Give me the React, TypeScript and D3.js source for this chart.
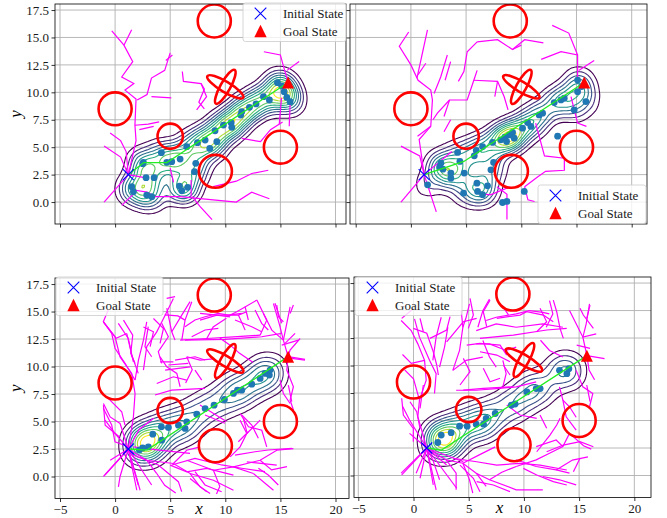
import React, { useRef, useEffect } from "react";
import * as d3 from "d3";

type Pt = [number, number];

// shared scene
const startState: Pt = [1.2, 2.5];
const goalState: Pt = [15.7, 10.9];
const circleCenters: Pt[] = [[0, 8.5], [5, 6], [9.1, 2.8], [15, 5], [9, 16.5]];
const circleRadii = [1.5, 1.15, 1.5, 1.5, 1.5];
const crossCenter: Pt = [10, 10.5];
const crossMajor = [1.9, 1.75];
const crossMinor = [0.47, 0.45];
const crossAngle = [-31, 61];

const xTicks = [-5, 0, 5, 10, 15, 20];
const yTicks = [0, 2.5, 5, 7.5, 10, 12.5, 15, 17.5];
const yDomain: [number, number] = [-2.0, 18.05];
const legendLabels = ["Initial State", "Goal State"];

// top-left
const tlTree: Pt[][] = [
  [[-0.3, 15.6], [0.8, 14.3], [1.6, 12.8], [0.6, 11.4], [1.7, 10.8], [0.9, 10.2], [1.9, 9.4], [1.8, 7.0], [1.9, 5.6], [1.2, 2.5]],
  [[1.5, 15.7], [0.8, 14.3]],
  [[1.8, 7.0], [3.0, 7.1], [4.0, 7.3]],
  [[2.2, 6.6], [3.5, 6.9]],
  [[-0.45, 6.3], [0.5, 5.6], [1.0, 4.6], [1.2, 2.5]],
  [[-1.0, 5.1], [0.5, 4.1], [1.2, 2.5]],
  [[-1.0, 0.0], [1.2, 2.5]],
  [[0.6, -0.3], [1.9, 0.95]],
  [[5.0, 13.6], [4.5, 12.0], [3.3, 11.3], [2.9, 9.8], [2.0, 9.3]],
  [[5.2, 13.4], [4.6, 12.9]],
  [[3.3, 9.6], [5.1, 9.5]],
  [[6.1, 11.9], [6.2, 11.0], [7.8, 10.8], [8.1, 10.3], [7.6, 9.1], [8.1, 8.5]],
  [[7.8, 10.8], [8.3, 9.6], [7.4, 8.4]],
  [[13.5, 13.7], [15.0, 13.4], [15.3, 12.3], [15.7, 10.9]],
  [[16.7, 12.8], [15.6, 12.0]],
  [[15.1, 9.5], [14.9, 7.1]],
  [[15.9, 9.4], [15.8, 6.9]],
  [[11.5, 5.8], [13.2, 5.5], [14.1, 6.6], [15.2, 7.3]],
  [[1.7, 1.1], [2.9, 0.9], [3.6, 0.5], [5.9, 0.5], [8.9, 0.2], [11.0, 0.0], [12.4, 0.9], [14.0, 0.3]],
  [[7.0, 0.5], [7.7, -0.4], [8.8, -1.6]],
  [[8.9, 1.4], [11.0, 1.9], [12.4, 2.6], [13.9, 2.9]],
  [[5.0, 3.1], [5.3, 1.8]],
  [[1.2, 2.5], [2.8, 2.2]],
  [[6.9, 2.0], [6.9, 0.5]],
];
const tlPath: Pt[] = [[1.2, 2.5], [2.6, 3.6], [4.7, 3.6], [15.7, 10.9]];
const tlDots: Pt[] = [
  [2.57, 3.62], [2.5, 3.5], [1.51, 1.4], [1.66, 0.94], [2.87, 0.64], [3.33, 0.49], [2.81, 2.22], [3.54, 2.22],
  [4.2, 4.5], [4.69, 3.62], [5.14, 3.68], [5.9, 3.92], [5.84, 1.46], [6.05, 1.03], [6.59, 1.34], [7.2, 2.77],
  [7.32, 3.53], [7.47, 5.41], [8.17, 5.65], [8.59, 4.89], [9.07, 6.5], [9.23, 5.5], [9.83, 7.02], [10.53, 7.23],
  [10.59, 6.81], [11.4, 7.93], [11.49, 8.24], [12.19, 8.63], [12.79, 8.94], [13.46, 9.6], [14.0, 9.3],
  [14.73, 10.88], [15.12, 10.58], [15.34, 10.06], [15.58, 9.54], [15.88, 9.15], [6.5, 5.05],
];

// top-right
const trTree: Pt[][] = [
  [[-0.2, 15.5], [-1.05, 14.2], [0.0, 12.5], [0.65, 11.1], [1.8, 10.2], [1.95, 9.3], [1.8, 6.9], [0.75, 5.7], [1.2, 2.5]],
  [[1.5, 15.7], [0.55, 11.3]],
  [[1.35, 12.65], [0.65, 11.6]],
  [[3.3, 13.4], [2.7, 11.4], [2.1, 9.9]],
  [[3.6, 12.8], [3.1, 11.1]],
  [[6.0, 14.6], [5.1, 13.7], [4.8, 11.9], [4.3, 11.0]],
  [[6.0, 14.6], [7.85, 14.8], [9.2, 13.9], [10.3, 14.8], [12.0, 14.5]],
  [[9.2, 13.9], [10.0, 14.3]],
  [[11.8, 13.0], [13.6, 13.7], [15.1, 13.4], [15.1, 11.2]],
  [[12.8, 16.1], [14.3, 15.4], [15.1, 13.4]],
  [[16.6, 12.9], [15.2, 12.0]],
  [[6.0, 12.0], [5.7, 11.1], [5.1, 9.3], [3.5, 9.3], [3.0, 7.8]],
  [[5.7, 11.1], [7.85, 11.0], [8.45, 9.6], [8.8, 8.4]],
  [[7.85, 11.0], [7.6, 9.6]],
  [[3.5, 9.3], [2.4, 8.1], [2.0, 7.5]],
  [[14.5, 9.6], [15.1, 7.2], [15.9, 6.9]],
  [[11.3, 7.2], [12.1, 4.2], [13.9, 4.0], [13.9, 2.9], [12.2, 2.8], [11.5, 2.3], [10.3, 1.4]],
  [[10.3, 1.4], [10.6, 0.2], [11.2, 0.05]],
  [[7.8, 1.4], [8.7, 0.7], [8.7, -1.6]],
  [[6.0, 0.8], [7.2, 0.65], [9.0, 1.4]],
  [[1.2, 2.5], [-0.9, 0.0]],
  [[1.2, 2.5], [2.3, -0.9]],
  [[1.2, 2.5], [3.7, 4.6]],
  [[-0.9, 5.1], [0.8, 4.2], [1.2, 2.5]],
  [[0.6, 6.0], [1.8, 6.9]],
  [[3.0, 6.4], [3.6, 7.5]],
];
const trPath: Pt[] = [[1.2, 2.5], [4.8, 3.7], [15.7, 10.9]];
const trDots: Pt[] = [
  [4.23, 4.52], [4.44, 3.7], [3.62, 2.64], [3.62, 2.18], [4.83, 2.64], [4.77, 0.81], [5.98, 1.72], [6.04, 0.97],
  [6.49, 0.67], [6.94, 1.48], [7.25, 2.94], [7.49, 3.61], [5.74, 4.21], [5.92, 4.7], [6.49, 5.06], [7.4, 5.43],
  [8.15, 5.67], [8.51, 5.91], [8.91, 6.12], [9.21, 6.34], [9.36, 5.82], [8.67, 5.52], [10.57, 7.25], [10.87, 6.89],
  [11.62, 7.94], [11.93, 8.1], [12.98, 9.07], [13.59, 9.31], [13.89, 9.46], [14.79, 8.4], [15.1, 11.12],
  [15.46, 10.52], [15.85, 9.16], [15.1, 10.06], [10.11, 6.73],
  [1.51, 1.57], [2.72, 3.55], [2.6, 3.2], [2.9, 3.0],
];
// samples that sit outside the density contours
const trStrayDots: Pt[] = [[8.3, -0.04], [8.7, 0.06], [10.27, 0.97], [13.29, 6.0]];

// bottom-left
const blTree: Pt[][] = [
  [[-1.06, 14.06], [0.0, 12.7], [0.45, 10.87], [1.51, 9.37], [1.81, 7.55], [1.66, 5.42], [1.2, 2.5]],
  [[0.76, 14.22], [1.6, 12.85], [1.42, 11.19], [1.81, 10.28]],
  [[2.87, 14.07], [2.57, 12.4], [2.12, 10.58], [1.81, 8.76]],
  [[3.48, 14.37], [4.39, 13.46], [4.08, 12.1]],
  [[5.29, 16.19], [4.54, 14.67], [3.78, 13.15], [2.87, 11.8], [2.57, 9.68]],
  [[-1.06, 6.64], [-0.45, 5.42], [0.45, 4.82], [1.2, 2.5]],
  [[-0.91, 5.12], [0.0, 3.91], [1.2, 2.5]],
  [[-1.06, 0.0], [1.2, 2.5]],
  [[-0.45, 1.48], [1.2, 2.5]],
  [[1.2, 2.5], [1.66, 0.27], [1.97, -1.25]],
  [[1.2, 2.5], [2.87, 1.48], [3.78, 0.27]],
  [[1.2, 2.5], [0.45, 0.0], [0.3, -0.94]],
  [[1.2, 2.5], [2.27, -1.25]],
  [[1.2, 2.5], [2.2, 4.3], [3.5, 5.3]],
  [[2.87, 1.48], [5.29, 1.18], [6.81, 0.27], [8.92, -0.34], [10.74, -1.25]],
  [[5.29, 1.18], [6.5, 2.39], [7.71, 2.7]],
  [[6.81, 0.27], [7.71, -0.94], [8.62, -1.55]],
  [[6.5, 1.48], [8.92, 0.57], [10.74, 0.88], [12.55, 0.27]],
  [[10.74, 0.88], [13.16, 1.48], [14.67, 2.39], [16.18, 2.54]],
  [[12.55, 0.27], [14.37, -1.25]],
  [[10.44, 1.79], [11.34, 2.7], [11.95, 3.91], [11.34, 5.12]],
  [[11.95, 3.91], [13.16, 5.12]],
  [[13.16, 1.48], [14.2, 0.6], [15.6, 0.9]],
  [[8.92, 0.57], [9.5, -0.9], [9.2, -1.6]],
  [[3.78, 0.27], [4.5, -0.8], [5.5, -1.5]],
  [[14.37, 15.73], [14.97, 13.61], [15.27, 12.4], [15.7, 10.9]],
  [[15.88, 15.43], [15.58, 13.92], [15.27, 12.4]],
  [[13.46, 14.82], [14.22, 13.31], [15.27, 12.4]],
  [[16.79, 12.55], [15.88, 11.49], [15.7, 10.9]],
  [[15.7, 10.9], [17.24, 10.65]],
  [[15.7, 10.9], [15.58, 9.68], [16.18, 8.16], [15.88, 6.94], [16.2, 6.0]],
  [[14.97, 8.76], [15.27, 7.55], [15.88, 6.64]],
  [[5.9, 12.4], [8.32, 12.55], [10.74, 12.7], [13.16, 12.85]],
  [[7.71, 14.22], [9.23, 14.67], [10.44, 14.52]],
  [[6.96, 15.89], [6.35, 14.22], [6.05, 12.4]],
  [[10.13, 14.52], [11.04, 14.98], [12.86, 16.04]],
  [[8.32, 12.55], [8.9, 13.6], [10.1, 14.4]],
  [[12.86, 16.04], [13.76, 14.22], [13.16, 12.85]],
  [[6.5, 10.89], [7.71, 10.58], [8.9, 10.7]],
  [[6.5, 10.89], [7.0, 9.7], [6.4, 8.5]],
  [[4.08, 10.89], [4.69, 9.98], [5.6, 9.37], [5.9, 8.16]],
  [[3.78, 8.46], [5.29, 9.07], [6.5, 8.76]],
  [[9.5, 12.6], [10.5, 11.9], [11.3, 11.2], [12.5, 10.4]],
  [[4.5, 14.7], [5.7, 14.6], [6.35, 14.22]],
  [[11.34, 5.73], [12.1, 4.52], [13.31, 4.21], [13.76, 2.7]],
  [[7.7, 6.5], [10.1, 5.0]],
  [[1.66, 2.7], [4.0, 2.4], [6.8, 2.1]],
  [[-1.06, 14.07], [0.09, 12.56], [1.06, 13.0]],
  [[1.06, 13.0], [1.66, 10.43]],
  [[2.57, 13.6], [3.48, 13.16], [3.18, 11.8]],
  [[4.69, 15.3], [5.14, 13.16], [5.44, 12.4]],
  [[6.8, 15.9], [6.05, 14.68], [5.14, 13.16]],
  [[7.71, 14.83], [9.23, 14.68], [11.19, 14.68], [11.95, 14.98]],
  [[11.19, 14.68], [11.8, 13.31]],
  [[14.67, 15.59], [14.82, 14.52], [15.27, 14.07]],
  [[16.18, 15.59], [15.88, 14.83]],
  [[15.12, 11.95], [16.63, 12.4]],
  [[4.08, 10.43], [5.29, 10.43]],
  [[4.54, 9.67], [6.8, 9.97]],
  [[-1.06, 6.49], [-0.9, 4.67], [0.4, 3.6]],
  [[4.99, 1.03], [6.5, 0.42], [8.32, 0.73], [10.74, 0.12]],
  [[6.8, -0.18], [8.32, -1.4]],
  [[11.95, 1.33], [14.67, 1.03]],
  [[11.65, 5.28], [11.95, 4.06]],
  [[-0.62, 15.14], [-1.07, 14.07], [-0.31, 13.02], [-0.01, 11.65], [0.9, 10.29], [1.81, 8.77]],
  [[0.29, 13.93], [1.2, 12.56], [1.51, 11.05], [2.1, 9.38]],
  [[3.01, 13.62], [2.71, 11.8], [3.32, 10.89]],
  [[4.23, 13.93], [4.83, 12.71], [3.92, 11.35], [4.23, 10.29]],
  [[4.68, 16.2], [5.44, 16.35]],
  [[5.44, 10.59], [7.25, 10.89], [8.16, 10.59]],
  [[4.83, 10.14], [6.64, 10.29]],
  [[6.34, 13.62], [7.25, 14.23], [8.16, 14.53], [9.37, 14.84], [10.27, 14.68], [11.49, 14.84]],
  [[6.95, 12.71], [8.16, 13.32], [9.37, 13.47]],
  [[6.34, 12.41], [9.97, 12.47], [13.3, 12.71], [15.12, 13.02]],
  [[10.88, 14.23], [12.4, 13.62], [13.3, 13.17]],
  [[11.79, 15.44], [12.09, 14.23]],
  [[12.7, 15.14], [13.3, 13.93], [13.9, 13.32]],
  [[14.51, 15.75], [14.81, 14.84], [15.12, 13.93]],
  [[16.33, 13.02], [15.42, 12.11]],
  [[16.03, 10.75], [17.23, 10.59]],
  [[7.25, 9.68], [7.86, 8.77]],
  [[-1.07, 6.2], [-0.31, 4.68], [-0.01, 3.16], [1.2, 2.71]],
  [[-0.62, 7.11], [0.6, 5.89], [0.9, 4.68]],
  [[-0.92, 0.14], [1.2, 2.5]],
  [[1.2, 2.5], [2.1, -0.77]],
  [[1.2, 2.5], [2.71, 0.14], [3.32, -0.77]],
  [[1.5, 2.0], [3.92, 1.05], [5.74, -0.47], [6.04, -1.38]],
  [[5.13, 1.05], [7.25, 1.65], [9.67, 1.05], [11.49, 0.75], [13.6, 0.44]],
  [[7.25, 0.44], [8.16, -0.77], [9.67, -1.38]],
  [[10.88, 1.95], [12.7, 2.25], [13.9, 2.41], [16.03, 2.56]],
  [[11.18, 3.16], [12.09, 4.07]],
  [[11.49, 5.59], [12.4, 4.68], [13.0, 3.47]],
  [[13.0, 0.75], [13.9, 0.14], [14.81, -0.77]],
  [[15.72, 8.32], [16.03, 6.8]],
  [[8.16, 5.59], [9.97, 4.84]],
  [[3.62, 7.41], [5.13, 7.86], [8.16, 8.02]],
];
const blPath: Pt[] = [[1.2, 2.5], [2.9, 2.4], [15.7, 10.9]];
const blDots: Pt[] = [
  [3.42, 3.85], [4.23, 3.3], [3.02, 2.7], [4.2, 4.52], [4.84, 4.46], [5.75, 4.67], [6.35, 4.37], [6.5, 4.97],
  [7.41, 5.67], [8.17, 6.18], [8.98, 6.49], [9.92, 7.0], [10.74, 7.55], [11.1, 7.85], [11.49, 7.85],
  [12.4, 8.4], [13.16, 8.92], [13.61, 9.37], [14.0, 9.22], [14.06, 9.68], [2.5, 2.6], [2.2, 2.4],
];
// hidden samples that only shape the density peak near the start
const blDensityExtra: Pt[] = [[2.6, 3.1], [2.7, 3.2], [2.8, 3.05], [2.55, 3.25]];

// bottom-right
const brTree: Pt[][] = [
  [[-1.12, 14.09], [-0.21, 13.18], [0.39, 11.97], [1.0, 10.47], [1.15, 8.66], [0.54, 6.85], [0.39, 5.34], [1.2, 2.5]],
  [[0.09, 14.24], [0.54, 12.58], [1.45, 10.47], [2.05, 9.26], [1.9, 7.45]],
  [[2.51, 14.39], [2.05, 12.58], [1.75, 10.47]],
  [[3.11, 13.48], [2.81, 11.67], [2.36, 9.86]],
  [[4.32, 14.99], [4.47, 13.48], [4.17, 11.37], [3.56, 9.56]],
  [[5.07, 15.6], [4.77, 14.39], [4.47, 13.48]],
  [[-0.97, 6.25], [-0.36, 5.04], [1.2, 2.5]],
  [[-1.12, 0.21], [1.2, 2.5]],
  [[1.2, 2.5], [1.75, 1.42], [2.36, -0.39]],
  [[1.2, 2.5], [2.96, 1.42], [3.86, 0.21], [3.86, -1.3]],
  [[1.2, 2.5], [2.05, -1.3]],
  [[1.2, 2.5], [0.24, 0.21]],
  [[1.2, 2.5], [-0.36, 3.83]],
  [[-0.8, 9.6], [0.0, 8.8], [0.54, 6.85]],
  [[-1.0, 11.0], [-0.2, 10.2], [1.0, 10.47]],
  [[6.58, 14.09], [7.49, 14.39], [9.3, 14.69], [10.5, 15.0], [11.71, 14.84], [12.3, 14.7]],
  [[5.68, 13.18], [7.49, 13.79], [9.3, 13.48], [11.71, 13.79], [13.53, 13.48]],
  [[6.88, 16.05], [6.28, 14.99], [5.83, 13.48]],
  [[12.32, 15.9], [12.62, 14.69], [12.02, 13.48]],
  [[14.13, 15.0], [14.89, 13.48], [15.34, 12.58], [16.55, 12.88]],
  [[15.94, 15.6], [15.64, 13.79], [15.34, 12.58], [15.7, 10.9]],
  [[5.68, 11.97], [6.88, 11.97], [8.39, 11.37], [9.3, 11.67]],
  [[6.28, 12.28], [6.88, 10.77], [7.49, 9.86]],
  [[3.86, 7.75], [5.68, 7.75], [7.49, 7.9], [9.3, 8.06], [11.11, 8.51]],
  [[8.09, 10.47], [8.39, 9.26], [8.09, 8.06]],
  [[11.5, 12.3], [12.32, 11.37], [13.53, 10.77]],
  [[3.56, 9.56], [4.77, 10.47], [6.28, 10.77]],
  [[8.0, 15.5], [8.6, 14.6]],
  [[14.73, 9.56], [15.34, 8.06], [16.24, 7.45], [15.94, 6.25]],
  [[13.22, 8.06], [13.53, 6.85], [13.83, 5.34], [14.73, 4.13]],
  [[13.53, 6.85], [14.13, 6.25], [14.73, 5.3]],
  [[15.7, 10.9], [17.3, 10.62]],
  [[15.7, 10.9], [15.9, 9.6], [16.4, 8.7]],
  [[14.13, 3.83], [13.53, 2.63], [12.32, 2.02], [11.11, 1.42], [9.3, 0.82]],
  [[11.11, 2.63], [12.92, 3.23], [13.53, 2.63]],
  [[9.3, 1.42], [11.11, 0.82], [12.92, 0.51], [14.13, 0.21]],
  [[11.71, -0.09], [13.22, -0.39], [14.73, -0.85]],
  [[14.13, 3.83], [15.4, 2.7], [16.1, 2.4]],
  [[12.92, 0.51], [14.4, 1.4], [15.8, 1.7]],
  [[2.96, 1.42], [4.47, 1.12], [5.68, 0.21], [6.88, -0.39], [9.3, -1.3], [11.71, -1.3]],
  [[5.68, 0.21], [6.58, -0.99]],
  [[4.47, 1.12], [5.07, -0.39], [5.37, -1.6]],
  [[6.88, -0.39], [8.0, 0.3], [9.3, 0.82]],
  [[4.47, 1.12], [6.0, 1.9], [7.4, 2.6]],
  [[-1.07, 14.29], [-0.16, 15.05]],
  [[-0.02, 13.38], [1.2, 12.93], [1.79, 11.25], [2.1, 10.05], [2.25, 9.14]],
  [[0.59, 14.29], [0.89, 13.07]],
  [[1.49, 12.47], [3.0, 13.23], [3.31, 14.44]],
  [[3.0, 12.16], [4.51, 13.98], [5.72, 14.29]],
  [[5.12, 16.11], [5.42, 14.59], [4.96, 13.38]],
  [[6.93, 15.95], [6.32, 14.89], [6.63, 13.53]],
  [[7.54, 14.29], [9.65, 14.59], [10.25, 14.89], [11.76, 14.59], [12.66, 13.98]],
  [[6.02, 12.47], [9.04, 12.77], [12.06, 13.23], [13.88, 13.38]],
  [[12.66, 15.95], [12.97, 14.89], [13.27, 13.38], [13.57, 12.47]],
  [[15.08, 15.2], [15.38, 14.59], [16.29, 13.38]],
  [[15.99, 15.5], [15.69, 14.29]],
  [[14.78, 11.86], [15.99, 11.56]],
  [[4.82, 11.86], [6.02, 12.02], [7.84, 11.86], [8.44, 10.95]],
  [[6.02, 11.25], [7.54, 10.95], [8.74, 10.35]],
  [[4.51, 10.65], [5.12, 9.44], [4.21, 8.23]],
  [[6.32, 9.75], [6.93, 8.53], [7.84, 8.84]],
  [[8.13, 10.05], [8.74, 9.14]],
  [[11.46, 15.2], [12.06, 13.98], [11.16, 13.07]],
  [[-1.07, 7.02], [-0.92, 5.5], [-0.02, 4.29], [-0.02, 3.07]],
  [[-0.32, 6.71], [0.29, 5.8], [0.59, 4.29]],
  [[0.89, 8.23], [0.59, 6.11]],
  [[-1.07, 0.05], [1.2, 2.5]],
  [[1.2, 2.5], [0.59, -0.25]],
  [[1.2, 2.5], [1.79, -0.86]],
  [[1.2, 2.5], [3.0, 0.95]],
  [[1.2, 2.5], [3.91, -1.16]],
  [[1.2, 2.5], [4.51, 1.25]],
  [[3.6, 1.56], [5.72, 1.25], [7.54, 0.95], [9.65, 1.11], [11.46, 0.95], [13.88, 0.5]],
  [[4.21, 0.95], [5.42, -0.25], [6.02, -1.47]],
  [[5.72, -0.56], [7.23, -0.86], [8.74, -1.47]],
  [[9.95, 0.65], [11.16, 0.05], [12.66, -0.56], [13.88, -0.86]],
  [[12.06, 2.16], [13.57, 2.77], [15.08, 3.07], [16.29, 2.62]],
  [[11.16, 2.16], [12.36, 3.68], [12.97, 4.59], [13.27, 5.2]],
  [[11.46, 5.5], [12.06, 4.29]],
  [[15.08, 1.56], [14.48, 0.35]],
  [[15.69, 8.23], [15.99, 6.71]],
  [[8.44, 6.41], [9.65, 5.5], [11.16, 5.2]],
  [[4.51, 7.77], [6.32, 7.93], [9.04, 8.07]],
];
const brPath: Pt[] = [[1.2, 2.5], [2.5, 2.3], [15.7, 10.9]];
const brDots: Pt[] = [
  [2.51, 3.68], [3.41, 3.89], [4.17, 4.49], [4.86, 4.49], [5.68, 4.67], [6.34, 4.67], [6.58, 5.19], [7.4, 5.64],
  [8.85, 6.39], [9.2, 6.5], [10.27, 7.6], [11.11, 7.9], [11.47, 7.9], [13.22, 9.56], [13.89, 9.26], [14.07, 9.71],
  [2.2, 3.0],
];
const brDensityExtra: Pt[] = [[2.7, 3.0], [2.8, 3.1], [2.9, 2.95], [2.65, 3.15]];

const contourFractions = [0.1, 0.2, 0.3, 0.4, 0.5, 0.6, 0.7, 0.8, 0.9];

interface PanelLayout {
  box: { left: number; top: number; right: number; bottom: number };
  xDomain: [number, number];
  xLabels: boolean;
  yLabels: boolean;
  legend: { x: number; y: number; w: number };
  bandwidth: number;
}

interface PanelData {
  layout: PanelLayout;
  tree: Pt[][];
  path: Pt[];
  dots: Pt[];
  stray: Pt[];
  densityExtra: Pt[];
}

const panels: PanelData[] = [
  {
    layout: { box: { left: 55, top: 4, right: 346, bottom: 224 }, xDomain: [-5.454, 20.953], xLabels: false, yLabels: true, legend: { x: 243, y: 3, w: 103 }, bandwidth: 9 },
    tree: tlTree, path: tlPath, dots: tlDots, stray: [], densityExtra: [],
  },
  {
    layout: { box: { left: 350, top: 4, right: 647, bottom: 224 }, xDomain: [-5.516, 21.386], xLabels: false, yLabels: false, legend: { x: 538, y: 185, w: 108 }, bandwidth: 9 },
    tree: trTree, path: trPath, dots: trDots, stray: trStrayDots, densityExtra: [],
  },
  {
    layout: { box: { left: 55, top: 278, right: 349, bottom: 498.5 }, xDomain: [-5.454, 21.225], xLabels: true, yLabels: true, legend: { x: 56, y: 277, w: 107 }, bandwidth: 11 },
    tree: blTree, path: blPath, dots: blDots, stray: [], densityExtra: blDensityExtra,
  },
  {
    layout: { box: { left: 354, top: 277, right: 651, bottom: 497.5 }, xDomain: [-5.39, 21.51], xLabels: true, yLabels: false, legend: { x: 355, y: 277, w: 107 }, bandwidth: 11 },
    tree: brTree, path: brPath, dots: brDots, stray: [], densityExtra: brDensityExtra,
  },
];

const FONT = "'Liberation Serif', 'Times New Roman', serif";

const fmtTick = (v: number, dec: number) => (v < 0 ? "\u2212" + Math.abs(v).toFixed(dec) : v.toFixed(dec));

function xMarker(s: number) {
  return `M${-s},${-s}L${s},${s}M${-s},${s}L${s},${-s}`;
}
function triMarker(s: number) {
  return `M0,${-s}L${s},${s}L${-s},${s}Z`;
}

function drawPanel(svg: d3.Selection<SVGSVGElement, unknown, null, undefined>, panel: PanelData, pi: number) {
  const { box, xDomain, xLabels, yLabels, legend, bandwidth } = panel.layout;
  const w = box.right - box.left;
  const h = box.bottom - box.top;
  const x = d3.scaleLinear().domain(xDomain).range([box.left, box.right]);
  const y = d3.scaleLinear().domain(yDomain).range([box.bottom, box.top]);
  const kx = x(1) - x(0);
  const ky = y(0) - y(1);

  const clipId = `panel-clip-${pi}`;
  svg.append("clipPath").attr("id", clipId)
    .append("rect").attr("x", box.left).attr("y", box.top).attr("width", w).attr("height", h);

  const g = svg.append("g");
  const plot = g.append("g").attr("clip-path", `url(#${clipId})`);

  // grid
  xTicks.forEach((t) => {
    plot.append("line").attr("x1", x(t)).attr("x2", x(t)).attr("y1", box.top).attr("y2", box.bottom)
      .attr("stroke", "#b0b0b0").attr("stroke-width", 0.9);
  });
  yTicks.forEach((t) => {
    plot.append("line").attr("x1", box.left).attr("x2", box.right).attr("y1", y(t)).attr("y2", y(t))
      .attr("stroke", "#b0b0b0").attr("stroke-width", 0.9);
  });

  // density contours of the samples
  const density = d3.contourDensity<Pt>()
    .x((d) => x(d[0]) - box.left)
    .y((d) => y(d[1]) - box.top)
    .size([w, h])
    .cellSize(2)
    .bandwidth(bandwidth);
  const contourFn = (density as any).contours(panel.dots.concat(panel.densityExtra));
  const geo = d3.geoPath();
  contourFractions.forEach((f, i) => {
    plot.append("path")
      .attr("transform", `translate(${box.left},${box.top})`)
      .attr("d", geo(contourFn(f * contourFn.max)))
      .attr("fill", "none")
      .attr("stroke", d3.interpolateViridis(i / (contourFractions.length - 1)))
      .attr("stroke-width", 1.1);
  });

  // tree
  const line = d3.line<Pt>().x((d) => x(d[0])).y((d) => y(d[1]));
  plot.selectAll(".branch").data(panel.tree).enter().append("path")
    .attr("class", "branch")
    .attr("d", (d) => line(d))
    .attr("fill", "none")
    .attr("stroke", "#ff00ff")
    .attr("stroke-width", 1.2);

  // samples
  plot.selectAll(".sample").data(panel.dots.concat(panel.stray)).enter().append("circle")
    .attr("class", "sample")
    .attr("cx", (d) => x(d[0]))
    .attr("cy", (d) => y(d[1]))
    .attr("r", 3.4)
    .attr("fill", "#1f77b4");

  // solution path
  plot.append("path").attr("d", line(panel.path)).attr("fill", "none")
    .attr("stroke", "#22ee22").attr("stroke-width", 1.3);

  // obstacles
  circleCenters.forEach((c, i) => {
    plot.append("ellipse").attr("cx", x(c[0])).attr("cy", y(c[1]))
      .attr("rx", circleRadii[i] * kx).attr("ry", circleRadii[i] * ky)
      .attr("fill", "none").attr("stroke", "#ff0000").attr("stroke-width", 2.6);
  });
  crossAngle.forEach((a, i) => {
    plot.append("ellipse")
      .attr("transform", `translate(${x(crossCenter[0])},${y(crossCenter[1])}) rotate(${-a})`)
      .attr("rx", crossMajor[i] * kx).attr("ry", crossMinor[i] * ky)
      .attr("fill", "none").attr("stroke", "#ff0000").attr("stroke-width", 2.6);
  });

  // start / goal
  plot.append("path").attr("transform", `translate(${x(startState[0])},${y(startState[1])})`)
    .attr("d", xMarker(5.5)).style("stroke", "#0000ff").style("stroke-width", "1.1px").style("fill", "none");
  plot.append("path").attr("transform", `translate(${x(goalState[0])},${y(goalState[1])})`)
    .attr("d", triMarker(6)).attr("fill", "#ff0000");

  // axes
  const yAxis = d3.axisLeft(y).tickValues(yTicks).tickSize(3.5).tickSizeOuter(0).tickPadding(2.5)
    .tickFormat((d) => (yLabels ? fmtTick(+d, 1) : ""));
  const ya = g.append("g").attr("transform", `translate(${box.left},0)`).call(yAxis);
  const xAxis = d3.axisBottom(x).tickValues(xTicks).tickSize(3.5).tickSizeOuter(0).tickPadding(3)
    .tickFormat((d) => (xLabels ? fmtTick(+d, 0) : ""));
  const xa = g.append("g").attr("transform", `translate(0,${box.bottom})`).call(xAxis);
  [ya, xa].forEach((a) => {
    a.select(".domain").remove();
    a.selectAll("line").attr("stroke", "#000").attr("stroke-width", 0.8);
    a.selectAll("text").attr("font-family", FONT).attr("font-size", 13).attr("fill", "#1a1a1a");
  });

  // frame
  g.append("rect").attr("x", box.left).attr("y", box.top).attr("width", w).attr("height", h)
    .attr("fill", "none").attr("stroke", "#000").attr("stroke-width", 0.8);

  if (yLabels) {
    g.append("text").attr("transform", `translate(21,${(box.top + box.bottom) / 2}) rotate(-90)`)
      .attr("text-anchor", "middle").attr("font-family", FONT).attr("font-style", "italic")
      .attr("font-size", 17).text("y");
  }
  if (xLabels) {
    g.append("text").attr("x", (box.left + box.right) / 2 - 3).attr("y", box.bottom + 15)
      .attr("text-anchor", "middle").attr("font-family", FONT).attr("font-style", "italic")
      .attr("font-size", 17).text("x");
  }

  // legend
  const lg = g.append("g").attr("transform", `translate(${legend.x},${legend.y})`);
  lg.append("rect").attr("width", legend.w).attr("height", 38.5).attr("rx", 2.5)
    .attr("fill", "#fff").attr("fill-opacity", 0.8).attr("stroke", "#cccccc").attr("stroke-width", 0.8);
  const rows = [10.5, 28];
  lg.append("path").attr("transform", `translate(17.5,${rows[0]})`).attr("d", xMarker(5.8))
    .style("stroke", "#0000ff").style("stroke-width", "1.1px").style("fill", "none");
  lg.append("path").attr("transform", `translate(17.5,${rows[1]})`).attr("d", triMarker(6.2))
    .attr("fill", "#ff0000");
  legendLabels.forEach((label, i) => {
    lg.append("text").attr("x", 40).attr("y", rows[i] + 4.5).attr("font-family", FONT)
      .attr("font-size", 13).attr("fill", "#1a1a1a").text(label);
  });
}

export default function App() {
  const svgRef = useRef<SVGSVGElement>(null);

  useEffect(() => {
    if (!svgRef.current) return;
    const svg = d3.select(svgRef.current);
    svg.selectAll("*").remove();
    panels.forEach((p, i) => drawPanel(svg, p, i));
  }, []);

  return (
    <svg
      ref={svgRef}
      width={667}
      height={518}
      style={{ position: "absolute", left: 0, top: 0, background: "#fff" }}
    />
  );
}
